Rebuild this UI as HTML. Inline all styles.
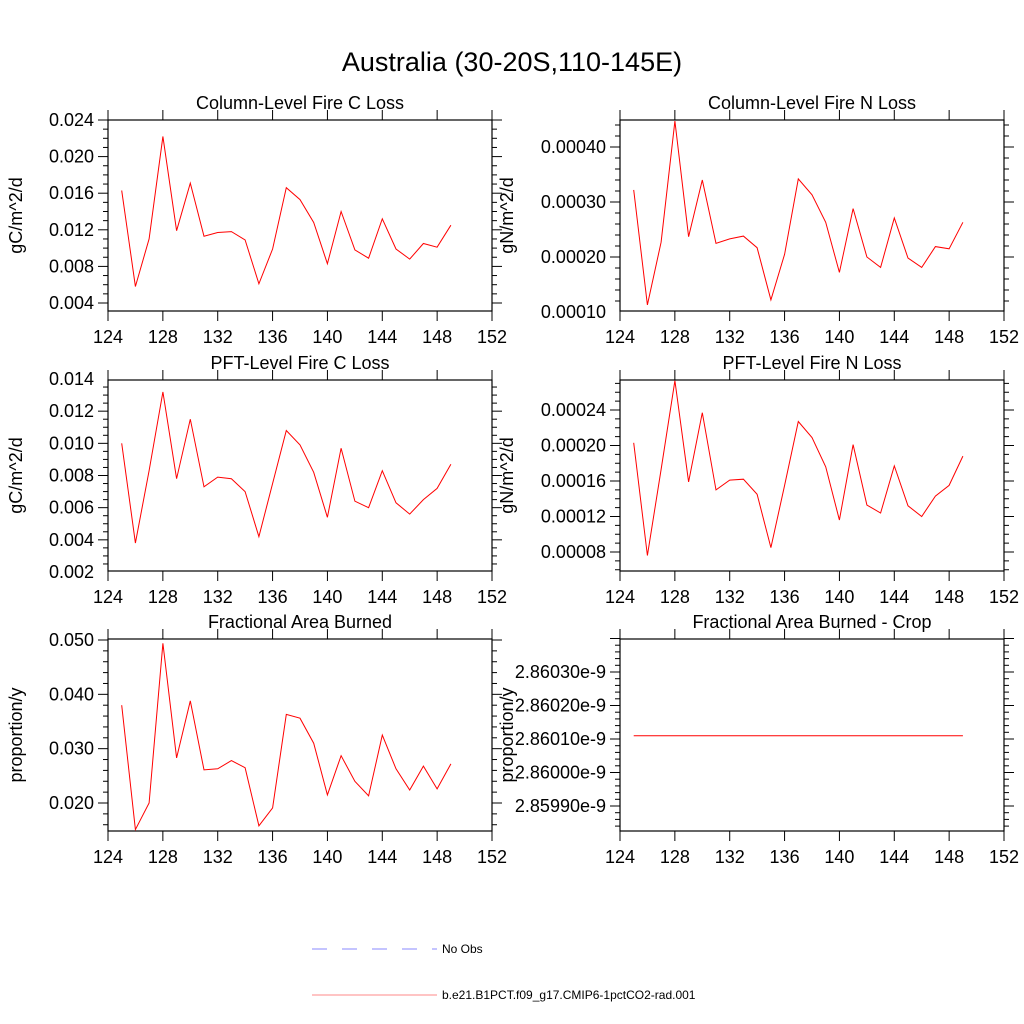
<!DOCTYPE html>
<html><head><meta charset="utf-8"><style>
html,body{margin:0;padding:0;background:#fff;}
svg{display:block;font-family:"Liberation Sans",sans-serif;}
</style></head><body>
<svg id="chart" width="1024" height="1024" viewBox="0 0 1024 1024">
<text x="512" y="71" font-size="27" text-anchor="middle">Australia (30-20S,110-145E)</text>
<g id="panels"></g>
<g>
<line x1="312" y1="949" x2="437" y2="949" stroke="#8888ff" stroke-width="1" stroke-dasharray="15,15"/>
<text x="442" y="953" font-size="12">No Obs</text>
<line x1="312" y1="995" x2="437" y2="995" stroke="#ff8888" stroke-width="1"/>
<text x="442" y="999" font-size="12">b.e21.B1PCT.f09_g17.CMIP6-1pctCO2-rad.001</text>
</g>
</svg>
<script>
const years = [125,126,127,128,129,130,131,132,133,134,135,136,137,138,139,140,141,142,143,144,145,146,147,148,149];
const colC = [0.0163,0.0058,0.011,0.0222,0.0119,0.0171,0.0113,0.0117,0.0118,0.0109,0.0061,0.0099,0.0166,0.0153,0.0128,0.0083,0.014,0.0098,0.0089,0.0132,0.0099,0.0088,0.0105,0.0101,0.0125];
const colN = [0.000322,0.000113,0.000227,0.000447,0.000237,0.000340,0.000225,0.000233,0.000238,0.000217,0.000122,0.000205,0.000342,0.000313,0.000263,0.000172,0.000288,0.000200,0.000181,0.000271,0.000198,0.000181,0.000219,0.000215,0.000263];
const pftC = [0.0100,0.0038,0.0083,0.0132,0.0078,0.0115,0.0073,0.0079,0.0078,0.0070,0.0042,0.0075,0.0108,0.0099,0.0082,0.0054,0.0097,0.0064,0.0060,0.0083,0.0063,0.0056,0.0065,0.0072,0.0087];
const pftN = [0.000203,0.000076,0.000173,0.000273,0.000159,0.000237,0.000150,0.000161,0.000162,0.000145,0.000085,0.000155,0.000227,0.000209,0.000176,0.000116,0.000201,0.000133,0.000124,0.000177,0.000132,0.000120,0.000143,0.000155,0.000188];
const fab = [0.038,0.0151,0.020,0.0494,0.0283,0.0388,0.0261,0.0263,0.0278,0.0265,0.0158,0.0191,0.0363,0.0356,0.031,0.0215,0.0287,0.024,0.0213,0.0325,0.0263,0.0224,0.0268,0.0226,0.0272];
const fabCrop = years.map(()=>2.86011e-9);
const xTicks = [124,128,132,136,140,144,148,152];
const ticksColC = ["0.004","0.008","0.012","0.016","0.020","0.024"];
const ticksColN = ["0.00010","0.00020","0.00030","0.00040"];
const ticksPftC = ["0.002","0.004","0.006","0.008","0.010","0.012","0.014"];
const ticksPftN = ["0.00008","0.00012","0.00016","0.00020","0.00024"];
const ticksFab = ["0.020","0.030","0.040","0.050"];
const ticksCrop = ["2.85990e-9","2.86000e-9","2.86010e-9","2.86020e-9","2.86030e-9"];

const NS="http://www.w3.org/2000/svg";
const root=document.getElementById('panels');
function mk(tag,attrs,parent){const e=document.createElementNS(NS,tag);for(const k in attrs)e.setAttribute(k,attrs[k]);parent.appendChild(e);return e;}

const panels=[
 {name:'column-c',title:'Column-Level Fire C Loss',ylab:'gC/m^2/d',L:108,T:120,B:311,data:colC,ticks:ticksColC,a:0.004,pa:303,b:0.024,pb:120,minor:4},
 {name:'column-n',title:'Column-Level Fire N Loss',ylab:'gN/m^2/d',L:620,T:120,B:311,data:colN,ticks:ticksColN,a:0.0001,pa:312,b:0.0004,pb:147,minor:5},
 {name:'pft-c',title:'PFT-Level Fire C Loss',ylab:'gC/m^2/d',L:108,T:380,B:571,data:pftC,ticks:ticksPftC,a:0.002,pa:572,b:0.014,pb:379,minor:4},
 {name:'pft-n',title:'PFT-Level Fire N Loss',ylab:'gN/m^2/d',L:620,T:380,B:571,data:pftN,ticks:ticksPftN,a:0.00008,pa:552,b:0.00024,pb:410,minor:4},
 {name:'area-burned',title:'Fractional Area Burned',ylab:'proportion/y',L:108,T:639,B:831,data:fab,ticks:ticksFab,a:0.020,pa:803,b:0.050,pb:640,minor:5},
 {name:'area-burned-crop',title:'Fractional Area Burned - Crop',ylab:'proportion/y',L:620,T:639,B:831,data:fabCrop,ticks:ticksCrop,a:2.8599e-9,pa:806,b:2.8603e-9,pb:672,minor:5}
];
const W=384;
panels.forEach(p=>{
 const g=mk('g',{},root);
 
 
 const R=p.L+W;
 const xs=v=>p.L+(v-124)/(152-124)*W;
 const ys=v=>p.pa+(v-p.a)/(p.b-p.a)*(p.pb-p.pa);
 const t=mk('text',{x:p.L+W/2,y:p.T-11,'font-size':18,'text-anchor':'middle'},g);t.textContent=p.title;
 
 
 const fr=mk('rect',{x:p.L,y:p.T,width:W,height:p.B-p.T,fill:'none',stroke:'#000','stroke-width':1.2},g);
 
 
 xTicks.forEach(v=>{
  const x=xs(v);
  mk('line',{x1:x,y1:p.B,x2:x,y2:p.B+10,stroke:'#000'},g);
  mk('line',{x1:x,y1:p.T,x2:x,y2:p.T-10,stroke:'#000'},g);
  const l=mk('text',{x:x,y:p.B+32,'font-size':18,'text-anchor':'middle'},g);l.textContent=v;
  
  
 });
 const vals=p.ticks.map(Number);
 const step=vals[1]-vals[0];
 for(let i=-2;i<vals.length+2;i++){
  for(let m=0;m<p.minor;m++){
   const v=vals[0]+i*step+m*step/p.minor;
   const y=ys(v);
   if(y<p.T-0.5||y>p.B+0.5)continue;
   const len=m===0?10:5;
   mk('line',{x1:p.L,y1:y,x2:p.L-len,y2:y,stroke:'#000'},g);
   mk('line',{x1:R,y1:y,x2:R+len,y2:y,stroke:'#000'},g);
  }
 }
 p.ticks.forEach(s=>{
  const y=ys(Number(s));
  const l=mk('text',{x:p.L-14,y:y+6,'font-size':18,'text-anchor':'end'},g);l.textContent=s;
  
  
 });
 const yl=mk('text',{x:0,y:0,'font-size':18,'text-anchor':'middle',transform:`translate(${p.L===108?22:513},${(p.T+p.B)/2}) rotate(-90)`},g);
 yl.textContent=p.ylab;
 
 
 const pts=years.map((yr,i)=>xs(yr).toFixed(1)+','+ys(p.data[i]).toFixed(1)).join(' ');
 const pl=mk('polyline',{points:pts,fill:'none',stroke:'#ff0000','stroke-width':1},g);
 
 
});
</script>
</body></html>
